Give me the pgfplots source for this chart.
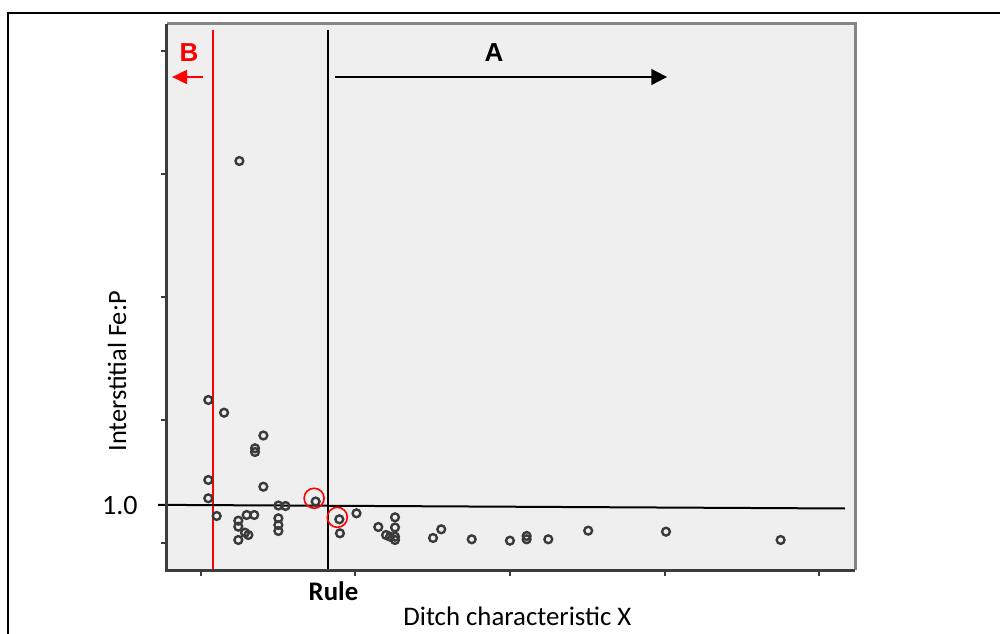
\documentclass[border=0pt]{standalone}
\usepackage{fontspec}
\setmainfont{Carlito}
\newfontfamily\arialfont{Liberation Sans}
\usepackage{pgfplots}
\pgfplotsset{compat=1.18}
\usetikzlibrary{arrows.meta}
\definecolor{bg}{HTML}{EFEFEF}
\definecolor{ptc}{HTML}{3A3A3A}
\definecolor{frameA}{HTML}{3C3C3C}
\definecolor{frameB}{HTML}{858585}

\begin{document}
\begin{tikzpicture}
\useasboundingbox (0,0) rectangle (500pt,316.5pt);
\begin{axis}[
  at={(83.35pt,31.5pt)}, anchor=south west,
  scale only axis, width=344.15pt, height=273pt,
  xmin=-0.220, xmax=4.230, ymin=-0.695, ymax=13.509,
  axis line style={draw=none},
  axis background/.style={fill=bg},
  xtick={0,1,2,3,4}, ytick={0,3.2,6.4,9.6,12.8},
  xticklabel=\empty, yticklabel=\empty,
  tick pos=left, tick align=outside, major tick length=3pt,
  tick style={frameA, line width=1pt},
  clip=false,
]
\addplot[red, line width=1pt] coordinates {(0.078,13.353) (0.078,-0.695)};
\addplot[black, line width=1pt] coordinates {(0.821,13.353) (0.821,-0.695)};
\addplot[black, line width=1pt] coordinates {(-0.276,1.0) (4.164,0.905)};
\addplot[only marks, mark=o, mark size=1.95pt, mark options={ptc, line width=1.2pt}] coordinates {
(0.049,3.728) (0.151,3.397) (0.405,2.804) (0.351,2.471) (0.351,2.375)
(0.049,1.647) (0.405,1.472) (0.049,1.171) (0.743,1.087) (0.502,0.983)
(0.548,0.970) (0.103,0.710) (0.297,0.736) (0.346,0.736) (0.243,0.588)
(0.243,0.432) (0.243,0.086) (0.286,0.276) (0.308,0.216) (0.502,0.650)
(0.502,0.476) (0.502,0.320) (0.896,0.624) (0.900,0.260) (1.007,0.780)
(1.148,0.424) (1.198,0.216) (1.256,0.676) (1.256,0.411) (1.256,0.172)
(1.256,0.086) (1.224,0.172) (1.502,0.138) (1.555,0.364) (1.752,0.104)
(1.999,0.068) (2.107,0.190) (2.107,0.104) (2.247,0.104) (2.505,0.328)
(3.008,0.302) (3.749,0.086) (0.250,9.945)
};
\addplot[only marks, mark=o, mark size=5pt, mark options={red, line width=0.8pt}] coordinates {(0.733,1.171) (0.883,0.676)};
\addplot[black, line width=1pt, -{Triangle[length=7.8pt,width=7.8pt]}] coordinates {(0.868,12.13) (3.015,12.13)};
\addplot[red, line width=1pt, -{Triangle[length=7.5pt,width=7pt]}] coordinates {(0.015,12.13) (-0.185,12.13)};
\end{axis}
\begin{scope}[x=0.5pt,y=-0.5pt,yshift=316.5pt]
\draw[line width=1pt] (8,650) -- (8,13) -- (1010,13);
\draw[frameB, line width=1.5pt] (166.7,24) -- (855,24) -- (855,570);
\draw[frameA, line width=1.5pt] (166.7,24) -- (166.7,570) -- (855,570);
\node[font=\arialfont\bfseries\fontsize{13}{15}\selectfont, inner sep=0] at (494,52.5) {A};
\node[font=\arialfont\bfseries\fontsize{13}{15}\selectfont, text=red, inner sep=0] at (189,52.5) {B};
\node[font=\fontsize{14}{16}\selectfont, anchor=base east, inner sep=0] at (138,514) {1.0};
\node[font=\bfseries\fontsize{13.4}{15}\selectfont, anchor=base, inner sep=0] at (333.5,600.5) {Rule};
\node[font=\fontsize{13.4}{15}\selectfont, anchor=base west, inner sep=0] at (403,625) {Ditch characteristic X};
\node[font=\fontsize{13.2}{15}\selectfont, anchor=base west, rotate=90, inner sep=0] at (126,452) {Interstitial Fe:P};
\end{scope}
\end{tikzpicture}
\end{document}
